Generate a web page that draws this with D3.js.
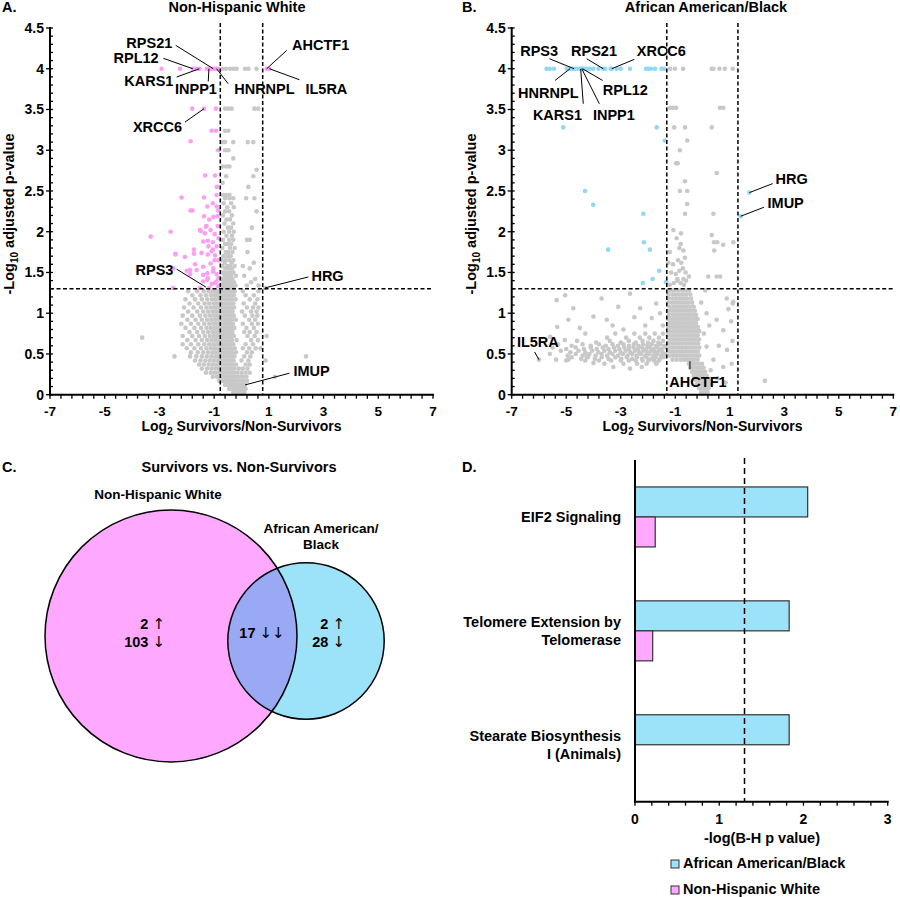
<!DOCTYPE html>
<html><head><meta charset="utf-8">
<script src="https://cdn.jsdelivr.net/npm/d3@7"></script>
<style>
body{margin:0;background:#fff;}
svg text{font-family:"Liberation Sans",Arial,Helvetica,sans-serif;font-weight:bold;fill:#000;}
svg text tspan.arr{font-family:"DejaVu Sans",sans-serif;font-weight:normal;}
</style></head><body>
<svg id="c" width="900" height="897"></svg>
<script>
// ---------------- DATA ----------------
const xTicks = [-7,-5,-3,-1,1,3,5,7];
const yTicks = [0,0.5,1,1.5,2,2.5,3,3.5,4,4.5];
const pThreshold = 1.3;            // -log10(0.05)
const fcCutA = [-0.775, 0.775];
const fcCutB = [-1.31, 1.3];

// Panel A: Non-Hispanic White — significant (pink) points [x, y]
const sigA = [
 [-2.92,4],[-2.25,4],[-1.78,4],[-1.70,4],[-1.62,4],[-1.54,4],[-1.27,4],[-1.19,4],[-1.09,4],[-1.03,4],[-0.97,4],[-0.91,4],[-0.85,4],[0.92,4],[1.02,4],
 [-1.80,3.51],[-1.37,3.51],[-0.93,3.51],[-1.09,3.24],[-0.93,3.24],[-1.86,3.11],[-0.85,3.0],
 [-1.33,2.69],[-0.97,2.69],[-0.90,2.55],[-2.19,2.42],[-1.37,2.42],[-0.91,2.45],
 [-1.86,2.26],[-1.79,2.26],[-1.25,2.31],[-1.05,2.35],[-0.91,2.31],[-0.85,2.26],
 [-1.37,2.19],[-1.18,2.15],[-1.03,2.18],[-0.88,2.19],
 [-1.52,2.02],[-1.49,2.01],[-1.34,1.98],[-1.28,2.07],[-1.30,2.06],[-1.13,2.02],[-0.98,1.97],[-0.87,2.07],[-0.84,1.92],
 [-1.40,1.88],[-1.23,1.89],[-1.21,1.82],[-1.05,1.87],[-0.91,1.82],
 [-2.42,1.73],[-1.74,1.78],[-1.74,1.73],[-1.46,1.74],[-1.23,1.72],[-1.09,1.76],[-1.04,1.78],[-0.97,1.71],[-0.98,1.65],[-0.85,1.65],
 [-2.49,1.55],[-2.0,1.52],[-1.88,1.53],[-1.88,1.48],[-1.70,1.6],[-1.64,1.53],[-1.40,1.57],[-1.40,1.47],[-1.25,1.49],[-1.13,1.61],[-1.03,1.55],[-1.04,1.51],[-0.91,1.48],[-0.84,1.43],
 [-1.52,1.31],[-1.40,1.39],[-1.25,1.41],[-1.23,1.43],[-1.09,1.36],[-0.97,1.37],[-0.92,1.39],[-0.85,1.33],[-1.18,1.31],
 [-3.32,1.94],[-2.59,2.0],[-2.41,1.72],[-2.07,1.69],[-2.5,1.31]
];
// Panel A: non-significant (grey) points as rows [y, [x...]]
const nsARows = [
 [4,[-0.69,-0.57,-0.42,-0.30,-0.18,0.13,0.25,0.55]],
 [3.51,[-0.60,-0.48,-0.36,0.47,0.61]],
 [3.24,[-0.60,-0.48]],
 [3.1,[-0.69,-0.60,-0.30,0.23,0.43]],
 [3.0,[-0.60,-0.48]],
 [2.9,[-0.30]],
 [2.8,[-0.69,-0.56,-0.44]],
 [2.76,[0.55]],
 [2.68,[-0.56,0.43]],
 [2.6,[-0.69]],
 [2.55,[0.25]],
 [2.45,[-0.67,-0.56,-0.44]],
 [2.41,[-0.60,-0.44,-0.30,0.17,0.47]],
 [2.35,[-0.65,-0.38]],
 [2.3,[-0.52,-0.28]],
 [2.25,[-0.6,-0.45,0.55]],
 [2.2,[-0.68,-0.35]],
 [2.15,[-0.55,-0.42]],
 [2.1,[-0.62,-0.3]],
 [2.05,[-0.5,-0.38,0.38]],
 [2.0,[-0.65,-0.45,-0.28]],
 [1.95,[-0.55,-0.35]],
 [1.9,[-0.68,-0.45,-0.3,0.2,0.3]],
 [1.85,[-0.6,-0.5,-0.38]],
 [1.8,[-0.7,-0.42,-0.25]],
 [1.75,[-0.58,-0.48,-0.33,0.22]],
 [1.7,[-0.66,-0.52,-0.4]],
 [1.65,[-0.72,-0.58,-0.45,-0.3]],
 [1.62,[-0.62,-0.36,0.45]],
 [1.58,[-0.7,-0.52,-0.42,-0.25,0.05]],
 [1.55,[-0.6,-0.48,-0.35,0.3]],
 [1.5,[-0.74,-0.66,-0.55,-0.42,-0.3]],
 [1.46,[-0.62,-0.5,-0.38,-0.2,0.1]],
 [1.42,[-0.72,-0.58,-0.46,-0.33,0.5]],
 [1.38,[-0.66,-0.54,-0.42,-0.28,0.35]],
 [1.34,[-0.74,-0.6,-0.48,-0.36,-0.22,0.2,0.62]],
 [1.31,[-0.68,-0.55,-0.44,-0.3,0.86]],
 [1.27,[-1.95,-1.62,-1.38,-1.2,-1.05,-0.92,-0.82,-0.7,-0.6,-0.5,-0.42,-0.33,-0.25,0.05,0.62]],
 [1.22,[-1.8,-1.5,-1.3,-1.12,-0.98,-0.88,-0.76,-0.65,-0.55,-0.46,-0.38,-0.28,0.15,0.45]],
 [1.17,[-2.05,-1.7,-1.45,-1.25,-1.08,-0.95,-0.84,-0.72,-0.62,-0.52,-0.43,-0.35,-0.22,0.3,0.58]],
 [1.12,[-1.9,-1.58,-1.35,-1.18,-1.02,-0.9,-0.78,-0.68,-0.58,-0.49,-0.4,-0.3,0.08,0.5]],
 [1.07,[-2.1,-1.75,-1.48,-1.28,-1.12,-0.98,-0.86,-0.74,-0.64,-0.55,-0.46,-0.37,-0.27,0.2,0.42,0.62]],
 [1.02,[-1.95,-1.62,-1.4,-1.22,-1.06,-0.93,-0.81,-0.7,-0.6,-0.51,-0.42,-0.33,0.02,0.35,0.55]],
 [0.97,[-2.15,-1.8,-1.52,-1.32,-1.15,-1.0,-0.88,-0.77,-0.66,-0.56,-0.47,-0.38,-0.28,0.12,0.4,0.58]],
 [0.92,[-1.98,-1.68,-1.45,-1.26,-1.1,-0.96,-0.84,-0.72,-0.62,-0.53,-0.44,-0.35,-0.2,0.28,0.5]],
 [0.87,[-2.2,-1.85,-1.58,-1.36,-1.18,-1.03,-0.9,-0.78,-0.68,-0.58,-0.49,-0.4,-0.31,0.05,0.38,0.6]],
 [0.82,[-2.05,-1.72,-1.48,-1.28,-1.12,-0.98,-0.85,-0.74,-0.64,-0.55,-0.46,-0.37,-0.26,0.18,0.45]],
 [0.77,[-1.9,-1.62,-1.4,-1.22,-1.06,-0.93,-0.81,-0.7,-0.6,-0.51,-0.42,-0.33,0.1,0.3,0.55]],
 [0.72,[-2.15,-1.8,-1.55,-1.34,-1.16,-1.01,-0.88,-0.76,-0.66,-0.56,-0.47,-0.38,-0.28,0.22,0.48,0.92]],
 [0.7,[-3.63]],
 [0.67,[-1.98,-1.68,-1.45,-1.26,-1.1,-0.96,-0.84,-0.72,-0.62,-0.53,-0.44,-0.35,-0.18,0.35,0.6]],
 [0.62,[-2.15,-1.85,-1.58,-1.36,-1.18,-1.03,-0.9,-0.78,-0.68,-0.58,-0.49,-0.4,-0.3,0.15,0.42]],
 [0.57,[-2.0,-1.72,-1.48,-1.28,-1.12,-0.98,-0.85,-0.74,-0.64,-0.55,-0.46,-0.37,-0.25,0.05,0.28,0.52,0.7]],
 [0.52,[-1.85,-1.6,-1.4,-1.22,-1.06,-0.93,-0.81,-0.7,-0.6,-0.51,-0.42,-0.33,-0.2,0.2,0.38]],
 [0.47,[-2.45,-1.88,-1.65,-1.45,-1.27,-1.1,-0.96,-0.84,-0.72,-0.62,-0.53,-0.44,-0.35,-0.26,0.1,0.32,2.36]],
 [0.42,[-1.7,-1.5,-1.32,-1.16,-1.01,-0.88,-0.76,-0.66,-0.56,-0.47,-0.38,-0.29,0.0,0.25,0.88]],
 [0.37,[-1.55,-1.38,-1.2,-1.05,-0.92,-0.8,-0.69,-0.59,-0.5,-0.41,-0.32,-0.2,0.15,0.3]],
 [0.32,[-1.45,-1.26,-1.1,-0.96,-0.84,-0.72,-0.62,-0.53,-0.44,-0.35,-0.25,-0.1,0.05,0.22]],
 [0.27,[-1.3,-1.12,-0.98,-0.86,-0.74,-0.64,-0.55,-0.46,-0.37,-0.28,-0.15,0.0,0.15,0.3]],
 [0.22,[-1.05,-0.9,-0.78,-0.67,-0.57,-0.48,-0.39,-0.3,-0.2,-0.08,0.05,0.18,1.22]],
 [0.17,[-0.82,-0.7,-0.6,-0.5,-0.41,-0.32,-0.22,-0.12,0.0,0.1,0.2]],
 [0.12,[-0.6,-0.5,-0.4,-0.3,-0.2,-0.1,0.0,0.08,0.13]],
 [0.07,[-0.45,-0.33,-0.22,-0.12,-0.02,0.06,0.15]],
 [0.03,[-0.3,-0.2,-0.1,0.0,0.1]]
];
// Panel B: African American/Black — significant (blue) points
const sigB = [
 [-5.72,4],[-5.60,4],[-5.45,4],[-4.98,4],[-4.89,4],[-4.86,4],[-4.76,4],[-4.71,4],[-4.64,4],[-4.52,4],[-4.47,4],[-4.43,4],[-4.40,4],[-4.35,4],[-4.25,4],[-4.13,4],[-4.01,4],[-3.82,4],[-3.64,4],[-3.58,4],[-3.37,4],[-3.33,4],[-3.15,4],[-3.00,4],[-2.66,4],[-2.07,4],[-1.99,4],[-1.89,4],[-1.74,4],[-1.50,4],[-1.41,4],
 [-5.11,3.28],[-1.68,3.28],[-1.38,3.12],[-4.31,2.5],[1.72,2.48],[-4.01,2.33],[-2.17,2.22],[1.40,2.19],
 [-2.15,1.87],[-3.46,1.78],[-1.93,1.78],[-1.59,1.52],[-1.83,1.42],[-2.19,1.37],[-1.34,1.38]
];
// Panel B: non-significant (grey) points as rows [y, [x...]]
const nsBRows = [
 [4,[-1.19,-1.01,-0.71,0.34,0.40,0.62,0.82,1.11]],
 [3.52,[-1.19,-1.09,-0.97,0.64,0.76]],
 [3.28,[-1.04,-0.64,0.34]],
 [3.12,[-0.56]],
 [3.0,[-0.83]],
 [2.84,[-0.97,-0.91]],
 [2.72,[0.52]],
 [2.62,[-0.64]],
 [2.5,[-0.83,-0.56]],
 [2.34,[-0.56]],
 [2.22,[-0.64,0.40]],
 [2.02,[-1.07]],
 [1.98,[-0.79]],
 [1.96,[0.34]],
 [1.92,[-0.95]],
 [1.87,[0.42,0.54,1.13]],
 [1.85,[-0.8]],
 [1.84,[0.76]],
 [1.8,[-0.85]],
 [1.77,[-0.7,0.43]],
 [1.75,[-1.2]],
 [1.68,[-0.65]],
 [1.65,[-0.9]],
 [1.62,[-1.25,-0.78]],
 [1.6,[-1.08]],
 [1.55,[-0.72]],
 [1.52,[-0.85]],
 [1.5,[-1.15,-0.62]],
 [1.48,[-0.98]],
 [1.45,[-0.5,0.21,0.52,0.65]],
 [1.42,[-0.7,-0.92]],
 [1.4,[-0.92,-0.6]],
 [1.37,[-1.05,-0.8]],
 [1.35,[-1.2,-0.68]],
 [1.28,[-1.2,-1.05,-0.9,-0.75,-0.62,-0.5,0.1]],
 [1.24,[-2.66]],
 [1.23,[-1.25,-1.1,-0.98,-0.85,-0.72,-0.6,-0.45]],
 [1.22,[-5.04]],
 [1.18,[-3.7,-1.22,-1.08,-0.95,-0.82,-0.7,-0.57,-0.42,0.89]],
 [1.16,[-5.35]],
 [1.14,[1.13]],
 [1.13,[-1.26,-1.12,-1.0,-0.88,-0.76,-0.64,-0.52,-0.38,-0.05]],
 [1.12,[-1.7,1.11]],
 [1.08,[-3.09,-1.2,-1.06,-0.94,-0.82,-0.7,-0.58,-0.45,-0.32]],
 [1.06,[-4.74,-2.29]],
 [1.05,[0.95]],
 [1.03,[-1.25,-1.12,-1.0,-0.88,-0.76,-0.64,-0.52,-0.4,-0.28]],
 [1.0,[-1.56,0.15]],
 [0.98,[-1.22,-1.08,-0.96,-0.84,-0.72,-0.6,-0.48,-0.36,-0.24]],
 [0.96,[-4.0]],
 [0.95,[-2.5]],
 [0.94,[-1.86]],
 [0.93,[-1.27,-1.14,-1.02,-0.9,-0.78,-0.66,-0.54,-0.42,-0.3,-0.18]],
 [0.92,[-4.92,-3.51,0.52]],
 [0.9,[1.05]],
 [0.88,[-1.2,-1.08,-0.96,-0.84,-0.72,-0.6,-0.48,-0.36,-0.24]],
 [0.85,[-3.3,-2.1,-1.45,0.25]],
 [0.83,[-5.33,-1.26,-1.13,-1.01,-0.89,-0.77,-0.65,-0.53,-0.41,-0.29,-0.17]],
 [0.82,[-4.5]],
 [0.8,[-2.9]],
 [0.79,[0.76]],
 [0.78,[-1.2,-1.07,-0.95,-0.83,-0.71,-0.59,-0.47,-0.35,-0.23,-0.12]],
 [0.75,[-4.3,-3.2,-2.5,-2.1,-1.75,-1.45,0.05]],
 [0.73,[-1.27,-1.14,-1.02,-0.9,-0.78,-0.66,-0.54,-0.42,-0.3,-0.18]],
 [0.71,[-5.59]],
 [0.7,[-3.5,-2.8,-2.3,-1.95,-1.6]],
 [0.68,[-1.2,-1.08,-0.96,-0.84,-0.72,-0.6,-0.48,-0.36,-0.24,-0.13]],
 [0.67,[-5.05]],
 [0.66,[-4.6,-3.4,-2.7,-2.2,-1.8,-1.45,1.1]],
 [0.64,[-3.9,-3.0,-2.45,-2.0,-1.62]],
 [0.63,[-1.25,-1.12,-1.0,-0.88,-0.76,-0.64,-0.52,-0.4,-0.28,-0.16]],
 [0.62,[-5.3,-4.4,-3.8,-3.3,-2.9,-2.52,-2.18,-1.86,-1.55]],
 [0.6,[-4.8,-4.1,-3.55,-3.1,-2.7,-2.35,-2.02,-1.7,-1.4,0.6]],
 [0.59,[0.15]],
 [0.58,[-5.5,-4.65,-4.1,-3.66,-3.25,-2.87,-2.53,-2.22,-1.93,-1.65,-1.36,-1.2,-1.08,-0.96,-0.84,-0.72,-0.6,-0.48,-0.36,-0.24,-0.12]],
 [0.56,[-5.0,-4.35,-3.88,-3.45,-3.05,-2.7,-2.37,-2.07,-1.79,-1.5]],
 [0.55,[0.9]],
 [0.54,[-5.2,-4.55,-4.05,-3.6,-3.2,-2.82,-2.48,-2.17,-1.88,-1.6]],
 [0.53,[-1.26,-1.13,-1.01,-0.89,-0.77,-0.65,-0.53,-0.41,-0.29,-0.17]],
 [0.52,[-4.85,-4.3,-3.82,-3.4,-3.0,-2.65,-2.32,-2.02,-1.74,-1.46]],
 [0.5,[-5.6,-4.65,-4.15,-3.7,-3.3,-2.92,-2.58,-2.26,-1.95,-1.66,-1.38]],
 [0.48,[-4.95,-4.4,-3.92,-3.5,-3.1,-2.75,-2.42,-2.1,-1.8,-1.52,-1.2,-1.07,-0.95,-0.83,-0.71,-0.59,-0.47,-0.35,-0.23,-0.12]],
 [0.47,[-4.25]],
 [0.46,[-4.8,-4.2,-3.7,-3.2,-2.78,-2.4,-2.05,-1.72,-1.42]],
 [0.44,[-4.45,-3.95,-3.45,-2.98,-2.58,-2.22,-1.88,-1.56]],
 [0.43,[-6.0,-5.37,-4.92,-1.1,-0.95,-0.8,-0.66,-0.54,-0.42,-0.3,-0.18,0.4]],
 [0.42,[-5.0,-4.3,-3.8,-3.35,-3.0,-2.7,-2.45,-2.2,-1.98,-1.78,-1.6]],
 [0.41,[-0.46]],
 [0.39,[-4.0,-1.68]],
 [0.38,[-3.6,-2.9,-2.4,-2.05,-1.7,-0.5,-0.38,-0.26,-0.14,-0.02,1.07]],
 [0.34,[-3.27,-2.23,0.76]],
 [0.33,[-0.45,-0.32,-0.2,-0.08,0.04]],
 [0.32,[-2.66]],
 [0.3,[0.3]],
 [0.28,[-0.38,-0.26,-0.14,-0.02,0.1]],
 [0.23,[-0.32,-0.2,-0.08,0.04,0.16]],
 [0.2,[0.55]],
 [0.18,[-0.25,-0.13,-0.01,0.11,0.22]],
 [0.17,[2.29]],
 [0.15,[0.85]],
 [0.13,[-0.2,-0.08,0.04,0.15,0.26]],
 [0.08,[-0.12,0.0,0.12,0.22]],
 [0.03,[-0.05,0.07,0.18]]
];
// labelled genes (values of the labelled points)
const labelsA = [
 {gene:"RPS21",x:-1.03,y:4},{gene:"RPL12",x:-1.78,y:4},{gene:"KARS1",x:-1.54,y:4},
 {gene:"INPP1",x:-1.19,y:4},{gene:"HNRNPL",x:-0.91,y:4},{gene:"AHCTF1",x:0.92,y:4},
 {gene:"IL5RA",x:1.02,y:4},{gene:"XRCC6",x:-1.37,y:3.51},{gene:"RPS3",x:-1.30,y:1.32},
 {gene:"HRG",x:0.86,y:1.31},{gene:"IMUP",x:0.13,y:0.12}
];
const labelsB = [
 {gene:"RPS3",x:-4.71,y:4},{gene:"RPS21",x:-3.64,y:4},{gene:"XRCC6",x:-3.33,y:4},
 {gene:"HNRNPL",x:-4.86,y:4},{gene:"KARS1",x:-4.47,y:4},{gene:"INPP1",x:-4.43,y:4},
 {gene:"RPL12",x:-4.40,y:4},{gene:"HRG",x:1.72,y:2.48},{gene:"IMUP",x:1.40,y:2.19},
 {gene:"IL5RA",x:-6.0,y:0.43},{gene:"AHCTF1",x:-0.46,y:0.41}
];
// Venn
const vennSets = ["Non-Hispanic White","African American/Black"];
const vennTotals = [122, 47];
const vennOnlyNHW = {up:2, down:103};
const vennShared = 17;
const vennOnlyAAB = {up:2, down:28};
// Pathways
const pathways = ["EIF2 Signaling","Telomere Extension by Telomerase","Stearate Biosynthesis I (Animals)"];
const pathwayLines = [["EIF2 Signaling"],["Telomere Extension by","Telomerase"],["Stearate Biosynthesis","I (Animals)"]];
const aabVals = [2.05, 1.83, 1.83];
const nhwVals = [0.24, 0.21, 0];
const barTicks = [0,1,2,3];

// ---------------- LAYOUT / STYLE ----------------
const C = {pinkPt:"#fb9ff5", bluePt:"#90d8f3", gray:"#c8c8c8",
  pinkFill:"#ffa8ff", blueFill:"#9ce2f8", overlap:"#9aa9f4"};
const offA = {
 RPS21:{tx:-64,ty:-26,lx:-37.6,ly:-23.4}, RPL12:{tx:-56.7,ty:-10.4,lx:-29.4,ly:-10.4},
 KARS1:{tx:-50.5,ty:12,lx:-22.7,ly:8.3}, INPP1:{tx:-13,ty:20.3,lx:-0.7,ly:12.7},
 HNRNPL:{tx:47.8,ty:20,lx:11.6,ly:15}, AHCTF1:{tx:54,ty:-23.3,lx:20,ly:-18.3},
 IL5RA:{tx:57,ty:20,lx:30,ly:11}, XRCC6:{tx:-46.5,ty:18.4,lx:-19,ly:13.4},
 RPS3:{tx:-51.5,ty:-17.3,lx:-29.3,ly:-18}, HRG:{tx:62.5,ty:-11.6,lx:43.3,ly:-11},
 IMUP:{tx:66.5,ty:-14.3,lx:44.3,ly:-11.7}
};
const offB = {
 RPS3:{tx:-35,ty:-17.4,lx:-24.7,ly:-10}, RPS21:{tx:-9.3,ty:-17.4,lx:-16.6,ly:-10},
 XRCC6:{tx:49.6,ty:-17.4,lx:22.6,ly:-9.4}, HNRNPL:{tx:-21.7,ty:24.4,lx:-15,ly:11.7},
 KARS1:{tx:-23.2,ty:46,lx:2.6,ly:35}, INPP1:{tx:32.1,ty:46,lx:17.6,ly:35},
 RPL12:{tx:42.8,ty:21.7,lx:20,ly:11.7}, HRG:{tx:42.2,ty:-14,lx:23.3,ly:-9},
 IMUP:{tx:45,ty:-13.3,lx:23.3,ly:-9}, IL5RA:{tx:-1.1,ty:-17.6,lx:-4.3,ly:-7.6},
 AHCTF1:{tx:8,ty:20.7,lx:0,ly:8}
};

const svg = d3.select("#c");
const flat = rows => rows.flatMap(([y,xs]) => xs.map(x => [x,y]));

function addText(g, x, y, s, size, anchor){
  return g.append("text").attr("x",x).attr("y",y).attr("font-size",size)
    .attr("text-anchor",anchor||"start").text(s);
}
function countText(g, x, y, num, arrows, anchor){
  const t = g.append("text").attr("x",x).attr("y",y).attr("font-size",14.5).attr("text-anchor",anchor);
  t.append("tspan").text(num + " ");
  t.append("tspan").attr("class","arr").attr("font-size",15).text(arrows);
  return t;
}

function volcano(o){
  const g = svg.append("g");
  const x = d3.scaleLinear().domain([-7,7]).range([o.x0,o.x1]);
  const y = d3.scaleLinear().domain([0,4.5]).range([394.7,28]);
  g.append("g").selectAll("circle").data(o.ns).join("circle")
    .attr("cx",d=>x(d[0])).attr("cy",d=>y(d[1])).attr("r",2.3).attr("fill",C.gray);
  g.append("g").selectAll("circle").data(o.sig).join("circle")
    .attr("cx",d=>x(d[0])).attr("cy",d=>y(d[1])).attr("r",2.3).attr("fill",o.sigColor);
  const dash = g.append("g").attr("stroke","#000").attr("stroke-width",1.5).attr("stroke-dasharray","4,2.5");
  o.cut.forEach(c => dash.append("line").attr("x1",x(c)).attr("x2",x(c)).attr("y1",y(4.56)).attr("y2",y(0)));
  dash.append("line").attr("x1",x(-7)).attr("x2",x(7)).attr("y1",y(pThreshold)).attr("y2",y(pThreshold));
  const ax = g.append("g").attr("stroke","#000");
  ax.append("line").attr("x1",x(-7)).attr("x2",x(-7)).attr("y1",y(4.5)-1).attr("y2",y(0)+1).attr("stroke-width",2);
  ax.append("line").attr("x1",x(-7)-1).attr("x2",x(7)+1).attr("y1",y(0)).attr("y2",y(0)).attr("stroke-width",2);
  d3.range(0,45.5,1).forEach(i => {
    const v=i/10, major = i%5===0;
    ax.append("line").attr("x1",x(-7)-(major?4:0)).attr("x2",x(-7)+3).attr("y1",y(v)).attr("y2",y(v)).attr("stroke-width",1.3);
  });
  d3.range(0,35.5,1).forEach(i => {
    const v=-7+i*0.4;
    ax.append("line").attr("x1",x(v)).attr("x2",x(v)).attr("y1",y(0)).attr("y2",y(0)+4).attr("stroke-width",1.3);
  });
  yTicks.forEach(v => addText(g, x(-7)-6, y(v)+5, String(v), 14, "end"));
  xTicks.forEach(v => addText(g, x(v), 415.5, String(v), 13.5, "middle"));
  const xt = g.append("text").attr("x",(o.x0+o.x1)/2).attr("y",431).attr("font-size",14).attr("text-anchor","middle");
  xt.append("tspan").text("Log");
  xt.append("tspan").attr("font-size",10).attr("dy",4).text("2");
  xt.append("tspan").attr("dy",-4).text(" Survivors/Non-Survivors");
  const yt = g.append("text").attr("transform",`translate(${o.yTitleX},214) rotate(-90)`).attr("font-size",14.5).attr("text-anchor","middle");
  yt.append("tspan").text("-Log");
  yt.append("tspan").attr("font-size",10).attr("dy",4).text("10");
  yt.append("tspan").attr("dy",-4).text(" adjusted p-value");
  addText(g, o.titleX, 12, o.title, 14.5, "middle");
  addText(g, o.letterX, 12, o.letter, 14.5, "start");
  o.labels.forEach(l => {
    const px = x(l.x), py = y(l.y), f = o.off[l.gene];
    g.append("line").attr("x1",px+f.lx).attr("y1",py+f.ly).attr("x2",px).attr("y2",py)
      .attr("stroke","#000").attr("stroke-width",1);
    addText(g, px+f.tx, py+f.ty+5, l.gene, 14.5, "middle");
  });
}

volcano({x0:50,x1:433,ns:flat(nsARows),sig:sigA,sigColor:C.pinkPt,cut:fcCutA,
  labels:labelsA,off:offA,title:"Non-Hispanic White",titleX:237,letter:"A.",letterX:2,yTitleX:14});
volcano({x0:511.7,x1:893.3,ns:flat(nsBRows),sig:sigB,sigColor:C.bluePt,cut:fcCutB,
  labels:labelsB,off:offB,title:"African American/Black",titleX:706,letter:"B.",letterX:462,yTitleX:476});

// ---------------- Panel C: Venn ----------------
(function(){
  const g = svg.append("g");
  const r = d3.scaleSqrt().domain([0,122]).range([0,126]);
  const c1 = {x:171,y:636,r:r(vennTotals[0])}, c2 = {x:306,y:641,r:r(vennTotals[1])};
  const defs = svg.append("defs");
  defs.append("clipPath").attr("id","clipPink").append("circle").attr("cx",c1.x).attr("cy",c1.y).attr("r",c1.r);
  g.append("circle").attr("cx",c1.x).attr("cy",c1.y).attr("r",c1.r).attr("fill",C.pinkFill);
  g.append("circle").attr("cx",c2.x).attr("cy",c2.y).attr("r",c2.r).attr("fill",C.blueFill);
  g.append("circle").attr("cx",c2.x).attr("cy",c2.y).attr("r",c2.r).attr("fill",C.overlap).attr("clip-path","url(#clipPink)");
  g.append("circle").attr("cx",c1.x).attr("cy",c1.y).attr("r",c1.r).attr("fill","none").attr("stroke","#000").attr("stroke-width",1.5);
  g.append("circle").attr("cx",c2.x).attr("cy",c2.y).attr("r",c2.r).attr("fill","none").attr("stroke","#000").attr("stroke-width",1.5);
  addText(g, 2, 472, "C.", 14.5);
  addText(g, 239, 472, "Survivors vs. Non-Survivors", 14.5, "middle");
  addText(g, 158, 499, vennSets[0], 13.5, "middle");
  addText(g, 321, 533, "African American/", 13.5, "middle");
  addText(g, 321, 549, "Black", 13.5, "middle");
  countText(g, 165, 629, vennOnlyNHW.up, "\u2191", "end");
  countText(g, 165, 647, vennOnlyNHW.down, "\u2193", "end");
  countText(g, 262, 638, vennShared, "\u2193\u2193", "middle");
  countText(g, 345, 629, vennOnlyAAB.up, "\u2191", "end");
  countText(g, 345, 647, vennOnlyAAB.down, "\u2193", "end");
})();

// ---------------- Panel D: bars ----------------
(function(){
  const g = svg.append("g");
  const x = d3.scaleLinear().domain([0,3]).range([635,887.7]);
  const y = d3.scaleBand().domain(pathways).range([460,801.7]);
  const bh = 30;
  pathways.forEach((p,i) => {
    const cy = y(p) + y.bandwidth()/2;
    g.append("rect").attr("x",x(0)).attr("y",cy-bh).attr("width",x(aabVals[i])-x(0)).attr("height",bh)
      .attr("fill",C.blueFill).attr("stroke","#333").attr("stroke-width",1.2);
    if (nhwVals[i] > 0)
      g.append("rect").attr("x",x(0)).attr("y",cy).attr("width",x(nhwVals[i])-x(0)).attr("height",bh)
        .attr("fill",C.pinkFill).attr("stroke","#333").attr("stroke-width",1.2);
    const lines = pathwayLines[i];
    lines.forEach((t,j) => addText(g, 621, cy + 5 + (j - (lines.length-1)/2)*18, t, 14.5, "end"));
  });
  g.append("line").attr("x1",x(pThreshold)).attr("x2",x(pThreshold)).attr("y1",458).attr("y2",801.7)
    .attr("stroke","#000").attr("stroke-width",1.5).attr("stroke-dasharray","6,4");
  g.append("line").attr("x1",x(0)).attr("x2",x(0)).attr("y1",460).attr("y2",802.7).attr("stroke","#000").attr("stroke-width",2);
  g.append("line").attr("x1",x(0)-1).attr("x2",x(3)+1).attr("y1",801.7).attr("y2",801.7).attr("stroke","#000").attr("stroke-width",2);
  d3.range(0,15.5,1).forEach(i => g.append("line").attr("x1",x(i*0.2)).attr("x2",x(i*0.2)).attr("y1",801.7).attr("y2",805.7).attr("stroke","#000").attr("stroke-width",1.3));
  barTicks.forEach(v => addText(g, x(v), 824, String(v), 14, "middle"));
  addText(g, 762, 843, "-log(B-H p value)", 14.5, "middle");
  addText(g, 462, 472, "D.", 14.5);
  const leg = [[vennSets[1], C.blueFill, 868],[vennSets[0], C.pinkFill, 894]];
  leg.forEach(([t,c,yy]) => {
    g.append("rect").attr("x",671).attr("y",yy-8).attr("width",8).attr("height",8).attr("fill",c).attr("stroke","#333").attr("stroke-width",1);
    addText(g, 683, yy, t, 14.5);
  });
})();
</script></body></html>
